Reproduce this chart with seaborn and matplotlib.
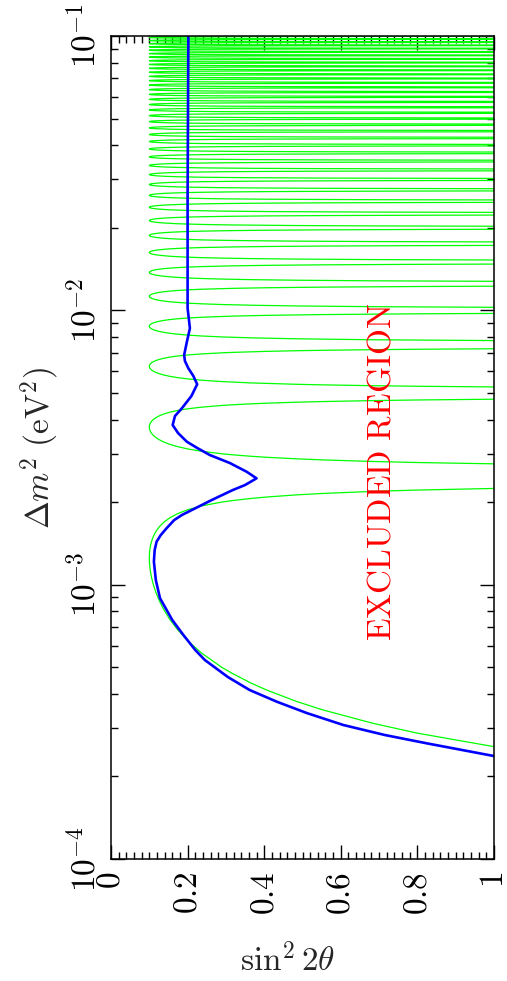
import numpy as np
import pandas as pd
import matplotlib
matplotlib.use("Agg")
import matplotlib.pyplot as plt
import seaborn as sns
from matplotlib.ticker import MultipleLocator, LogLocator, FixedLocator, FixedFormatter, NullFormatter

# ---------------- data ----------------
# Green (no-averaging) limit: positions of the lobe tips and of the poles between lobes (Delta m^2, eV^2)
green_tip_dm2 = [0.00125, 0.00375, 0.00625, 0.00875, 0.01125, 0.01375, 0.01625, 0.01875,
                 0.02125, 0.02375, 0.02625, 0.02875, 0.03125, 0.03375, 0.03625, 0.03875,
                 0.04125, 0.04375, 0.04625, 0.04875, 0.05125, 0.05375, 0.05625, 0.05875,
                 0.06125, 0.06375, 0.06625, 0.06875, 0.07125, 0.07375, 0.07625, 0.07875,
                 0.08125, 0.08375, 0.08625, 0.08875, 0.09125, 0.09375, 0.09625, 0.09875]
green_pole_dm2 = [0.0025, 0.005, 0.0075, 0.01, 0.0125, 0.015, 0.0175, 0.02,
                  0.0225, 0.025, 0.0275, 0.03, 0.0325, 0.035, 0.0375, 0.04,
                  0.0425, 0.045, 0.0475, 0.05, 0.0525, 0.055, 0.0575, 0.06,
                  0.0625, 0.065, 0.0675, 0.07, 0.0725, 0.075, 0.0775, 0.08,
                  0.0825, 0.085, 0.0875, 0.09, 0.0925, 0.095, 0.0975, 0.1]
# shape of one green lobe: sin^2 2theta against the fraction of the way from tip to pole
lobe_frac = [0.0, 0.05, 0.1, 0.15, 0.2, 0.25, 0.3, 0.35, 0.4, 0.45, 0.5,
             0.55, 0.6, 0.62, 0.65, 0.67, 0.7, 0.72, 0.75, 0.77, 0.8, 0.82, 0.85, 0.9]
lobe_sin2 = [0.1, 0.1006, 0.1025, 0.1058, 0.1106, 0.1172, 0.126, 0.1376, 0.1528, 0.173, 0.2,
             0.237, 0.289, 0.3165, 0.366, 0.4073, 0.485, 0.5516, 0.683, 0.8004, 1.047, 1.285,
             1.835, 4.09]

# Blue (averaged) limit
blue_dm2 = [2.373e-4, 2.641e-4, 2.831e-4, 3.078e-4, 3.405e-4, 3.744e-4, 4.130e-4, 4.607e-4,
            5.313e-4, 5.779e-4, 6.554e-4, 7.433e-4, 8.92e-4, 1.040e-3, 1.213e-3, 1.337e-3,
            1.434e-3, 1.517e-3, 1.605e-3, 1.72e-3, 1.794e-3, 2.035e-3, 2.213e-3, 2.308e-3,
            2.441e-3, 2.581e-3, 2.777e-3, 2.969e-3, 3.150e-3, 3.320e-3, 3.571e-3, 3.819e-3,
            4.118e-3, 4.394e-3, 4.872e-3, 5.375e-3, 5.763e-3, 6.147e-3, 6.536e-3, 6.875e-3,
            7.665e-3, 8.60e-3, 9.376e-3, 1.017e-2, 1.487e-2, 2.633e-2, 0.1]
blue_sin2 = [1.0, 0.824, 0.715, 0.607, 0.511, 0.433, 0.362, 0.305,
             0.245, 0.220, 0.189, 0.160, 0.128, 0.117, 0.112, 0.114,
             0.119, 0.130, 0.145, 0.165, 0.185, 0.263, 0.318, 0.350,
             0.380, 0.354, 0.310, 0.258, 0.225, 0.198, 0.175, 0.161,
             0.167, 0.185, 0.210, 0.225, 0.215, 0.202, 0.193, 0.191,
             0.198, 0.206, 0.203, 0.200, 0.200, 0.200, 0.202]

x_ticks = [0, 0.2, 0.4, 0.6, 0.8, 1]
x_ticklabels = ["$0$", "$0.2$", "$0.4$", "$0.6$", "$0.8$", "$1$"]
y_ticks = [1e-4, 1e-3, 1e-2, 1e-1]
y_ticklabels = ["$10^{-4}$", "$10^{-3}$", "$10^{-2}$", "$10^{-1}$"]

# ---------------- build the green path from the lobes ----------------
g_m, g_s = [], []
frac = np.array(lobe_frac)
prof = np.array(lobe_sin2)
for k, tip in enumerate(green_tip_dm2):
    lo = 0.0 if k == 0 else green_pole_dm2[k - 1]
    hi = green_pole_dm2[k]
    g_m += list((tip - frac * (tip - lo))[::-1]) + list(tip + frac[1:] * (hi - tip))
    g_s += list(prof[::-1]) + list(prof[1:])
green_df = pd.DataFrame({"dm2": g_m, "sin2": g_s})
blue_df = pd.DataFrame({"dm2": blue_dm2, "sin2": blue_sin2})

# ---------------- drawing ----------------
sns.set_theme(style="ticks")
plt.rcParams["font.family"] = ["DejaVu Serif"]
plt.rcParams["mathtext.fontset"] = "cm"

fig = plt.figure(figsize=(5.07, 9.81), dpi=100)
ax = fig.add_axes([111 / 507, 122 / 981, 383 / 507, 823 / 981])

sns.lineplot(data=green_df, x="sin2", y="dm2", sort=False, estimator=None,
             color="#00ff00", lw=0.9, ax=ax)
sns.lineplot(data=blue_df, x="sin2", y="dm2", sort=False, estimator=None,
             color="#0000ff", lw=1.9, ax=ax)

ax.set_yscale("log")
ax.set_xlim(0, 1)
ax.set_ylim(1e-4, 1e-1)

ax.xaxis.set_major_locator(FixedLocator(x_ticks))
ax.xaxis.set_major_formatter(FixedFormatter(x_ticklabels))
ax.xaxis.set_minor_locator(MultipleLocator(0.02))
ax.yaxis.set_major_locator(FixedLocator(y_ticks))
ax.yaxis.set_major_formatter(FixedFormatter(y_ticklabels))
ax.yaxis.set_minor_locator(LogLocator(base=10, subs=range(2, 10), numticks=20))
ax.yaxis.set_minor_formatter(NullFormatter())

ax.tick_params(axis="both", which="both", direction="in", top=True, right=True,
               colors="black", labelsize=24)
ax.tick_params(axis="both", which="major", length=10, width=1.0)
ax.tick_params(axis="both", which="minor", length=5, width=1.0)
ax.tick_params(axis="x", which="major", pad=9)
ax.tick_params(axis="y", which="major", pad=6)
for lab in ax.get_xticklabels():
    lab.set_rotation(90)
for lab in ax.get_yticklabels():
    lab.set_rotation(90)
    lab.set_va("center")

for sp in ax.spines.values():
    sp.set_linewidth(1.1)
    sp.set_color("black")

ax.set_xlabel(r"$\sin^2 2\theta$", fontsize=24)
ax.set_ylabel(r"$\Delta m^2\ (\mathrm{eV}^2)$", fontsize=24)
ax.xaxis.set_label_coords(0.462, -0.102)
ax.yaxis.set_label_coords(-0.128, 0.5)

ax.text(0.705, 2.58e-3, r"$\mathrm{EXCLUDED\ REGION}$", color="red", fontsize=24,
        rotation=90, ha="center", va="center")

fig.savefig("out.png", dpi=100)
